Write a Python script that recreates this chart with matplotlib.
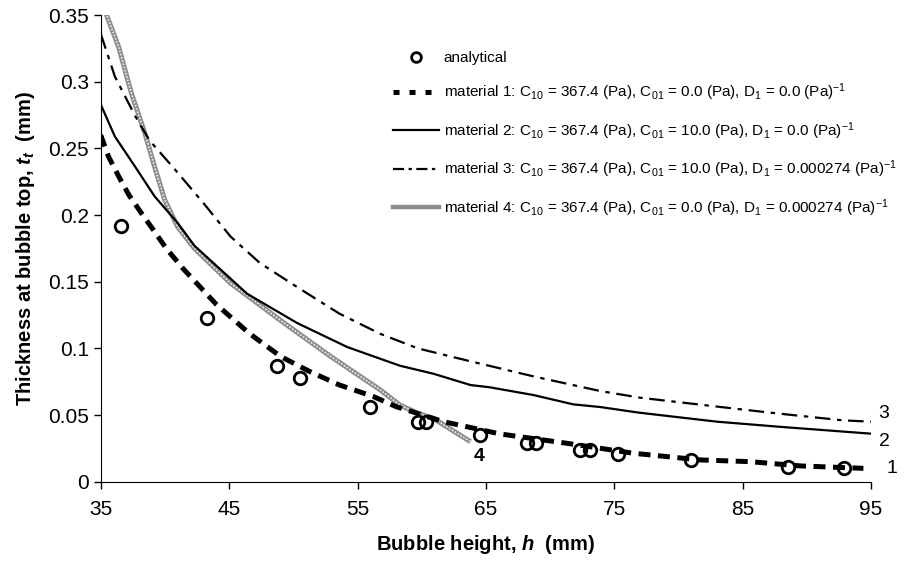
import numpy as np
import matplotlib.pyplot as plt
from matplotlib.lines import Line2D

plt.rcParams['font.family'] = 'Liberation Sans'
plt.rcParams['mathtext.fontset'] = 'custom'
plt.rcParams['mathtext.rm'] = 'Liberation Sans'
plt.rcParams['mathtext.it'] = 'Liberation Sans:italic:bold'
plt.rcParams['mathtext.bf'] = 'Liberation Sans:bold'

# analytical solution
h_an = [36.6, 43.3, 48.7, 50.5, 56.0, 59.7, 60.3, 64.5, 68.2, 68.9, 72.3, 73.1, 75.3, 81.0, 88.5, 92.9]
t_an = [0.192, 0.123, 0.087, 0.078, 0.056, 0.045, 0.045, 0.035, 0.029, 0.029, 0.024, 0.024, 0.021, 0.016, 0.011, 0.010]

# material 1
h_m1 = [35.0, 35.6, 36.4, 37.2, 38.2, 39.2, 40.1, 41.4, 44.0, 46.6, 49.0, 51.3, 53.6, 56.2, 58.0,
        61.7, 66.1, 71.3, 76.5, 81.7, 85.6, 89.5, 94.4]
t_m1 = [0.260, 0.244, 0.229, 0.215, 0.201, 0.1875, 0.175, 0.160, 0.133, 0.111, 0.094, 0.0825, 0.0725, 0.064, 0.0563,
        0.045, 0.0358, 0.0288, 0.0213, 0.0163, 0.015, 0.0118, 0.010]

# material 2
h_m2 = [35.0, 36.1, 37.7, 39.2, 41.0, 42.3, 46.4, 50.3, 54.2, 58.3, 60.9, 63.8, 65.3, 68.7, 71.8,
        73.9, 76.9, 83.0, 88.1, 95.0]
t_m2 = [0.283, 0.259, 0.236, 0.214, 0.194, 0.177, 0.141, 0.119, 0.101, 0.087, 0.081, 0.0725, 0.0708, 0.065, 0.058,
        0.056, 0.0518, 0.045, 0.041, 0.036]

# material 3
h_m3 = [35.0, 36.1, 37.7, 38.8, 40.8, 43.0, 45.1, 47.4, 50.3, 53.6, 56.75, 59.7, 63.5, 68.7, 73.9,
        77.0, 84.2, 87.4, 92.8, 95.0]
t_m3 = [0.336, 0.304, 0.274, 0.256, 0.234, 0.209, 0.184, 0.164, 0.146, 0.126, 0.111, 0.100, 0.091, 0.079, 0.068,
        0.063, 0.055, 0.0515, 0.046, 0.045]

# material 4
h_m4 = [35.3, 36.4, 37.4, 38.45, 39.2, 40.0, 41.0, 42.3, 45.1, 49.0, 52.9, 56.75, 58.3, 59.7, 60.9, 63.8]
t_m4 = [0.354, 0.326, 0.291, 0.261, 0.236, 0.211, 0.191, 0.175, 0.149, 0.121, 0.094, 0.069, 0.0575, 0.0513, 0.0475, 0.030]

fig = plt.figure(figsize=(9.16, 5.64), dpi=100)
ax = fig.add_axes([0.110, 0.146, 0.841, 0.827])

ax.plot(h_m4, t_m4, color='#8c8c8c', lw=3.6, solid_capstyle='butt')
ax.plot(h_m4, t_m4, color='#f0f0f0', lw=1.2, dashes=(1, 1))
ax.plot(h_m3, t_m3, color='black', lw=1.6, dashes=(7, 3, 2, 3))
ax.plot(h_m2, t_m2, color='black', lw=1.6)
ax.plot(h_m1, t_m1, color='black', lw=3.6, dashes=(2.4, 1.5))
ax.plot(h_an, t_an, 'o', mfc='none', mec='black', mew=2.0, ms=9)

ax.set_xlim(35, 95)
ax.set_ylim(0, 0.35)
ax.set_xticks(np.arange(35, 96, 10))
ax.set_yticks(np.arange(0, 0.351, 0.05))
ax.yaxis.set_major_formatter(plt.FuncFormatter(lambda v, p: '%g' % round(v, 2)))
ax.tick_params(direction='out', length=5, width=1, labelsize=15)
ax.tick_params(axis='x', pad=8)
for s in ['top', 'right']:
    ax.spines[s].set_visible(False)
ax.set_xlabel('Bubble height, $\\mathit{h}$  (mm)', fontsize=14.5, fontweight='bold', labelpad=10)
ax.set_ylabel('Thickness at bubble top, $\\mathit{t}_{\\mathit{t}}$  (mm)', fontsize=14.5, fontweight='bold', labelpad=8)

ax.text(96.0, 0.0515, '3', fontsize=14, ha='center', va='center', clip_on=False)
ax.text(96.0, 0.030, '2', fontsize=14, ha='center', va='center', clip_on=False)
ax.text(96.6, 0.010, '1', fontsize=14, ha='center', va='center', clip_on=False)
ax.text(64.5, 0.019, '4', fontsize=14, fontweight='bold', ha='center', va='center')

# legend
hd = [
    Line2D([], [], ls='none', marker='o', mfc='none', mec='black', mew=2.0, ms=7),
    Line2D([], [], color='black', lw=3.6, dashes=(1.2, 2.0)),
    Line2D([], [], color='black', lw=1.6),
    Line2D([], [], color='black', lw=1.6, dashes=(5, 2, 1.5, 2)),
    Line2D([], [], color='#8c8c8c', lw=3.2),
]
lb = [
    'analytical',
    'material 1: C$_{10}$ = 367.4 (Pa), C$_{01}$ = 0.0 (Pa), D$_1$ = 0.0 (Pa)$^{-1}$',
    'material 2: C$_{10}$ = 367.4 (Pa), C$_{01}$ = 10.0 (Pa), D$_1$ = 0.0 (Pa)$^{-1}$',
    'material 3: C$_{10}$ = 367.4 (Pa), C$_{01}$ = 10.0 (Pa), D$_1$ = 0.000274 (Pa)$^{-1}$',
    'material 4: C$_{10}$ = 367.4 (Pa), C$_{01}$ = 0.0 (Pa), D$_1$ = 0.000274 (Pa)$^{-1}$',
]
leg = ax.legend(hd, lb, loc='upper left', bbox_to_anchor=(0.362, 0.953), frameon=False,
                fontsize=11, labelspacing=1.1, handlelength=3.0, handletextpad=0.3)

fig.savefig('out.png', dpi=100)
